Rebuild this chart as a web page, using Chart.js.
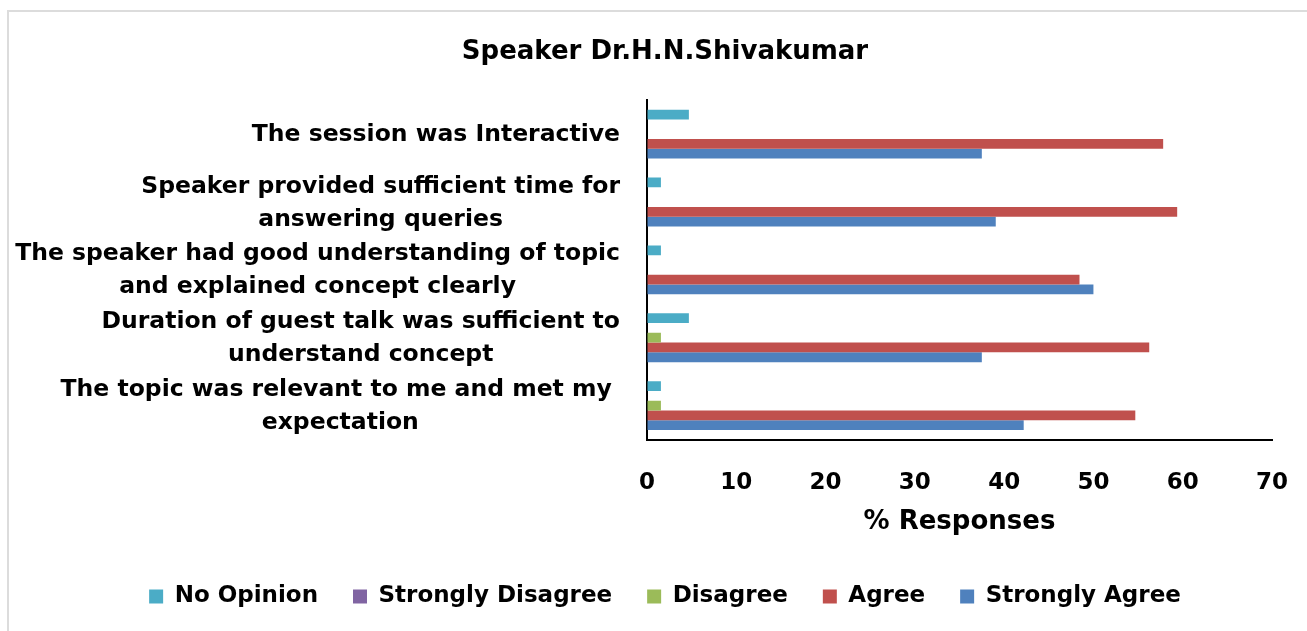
<!DOCTYPE html>
<html>
<head>
<meta charset="utf-8">
<title>Speaker Dr.H.N.Shivakumar</title>
<script src="https://cdn.jsdelivr.net/npm/chart.js@4.4.1/dist/chart.umd.min.js"></script>
<style>
  html, body { margin: 0; padding: 0; background: #ffffff; overflow: hidden; }
  #wrap { position: relative; width: 1307px; height: 631px; }
  #frame { position: absolute; left: 7px; top: 10px; width: 1330px; height: 660px;
           border: 2px solid #dcdcdc; box-sizing: border-box; }
  canvas { position: absolute; left: 0; top: 0; }
</style>
</head>
<body>
<div id="wrap">
  <div id="frame"></div>
  <canvas id="chart" width="1307" height="631"></canvas>
</div>
<script>
// Survey statements (top to bottom), each split into its printed lines
const categories = [
  ["The session was Interactive"],
  ["Speaker provided sufficient time for", "answering queries"],
  ["The speaker had good understanding of topic", "and explained concept clearly"],
  ["Duration of guest talk was sufficient to", "understand concept"],
  ["The topic was relevant to me and met my ", "expectation"]
];

// % of responses per rating
const noOpinion         = [4.69, 1.56, 1.56, 4.69, 1.56];
const stronglyDisagree  = [0, 0, 0, 0, 0];
const disagree          = [0, 0, 0, 1.56, 1.56];
const agree             = [57.81, 59.38, 48.44, 56.25, 54.69];
const stronglyAgree     = [37.5, 39.06, 50, 37.5, 42.19];

const xTicks = [0, 10, 20, 30, 40, 50, 60, 70];

const FONT = "'DejaVu Sans', 'Liberation Sans', Arial, sans-serif";
Chart.defaults.font.family = FONT;
Chart.defaults.font.weight = 'bold';
Chart.defaults.color = '#000000';

// Multi-line category labels: lines centred on each other, block right-aligned to the axis
const categoryLabels = {
  id: 'categoryLabels',
  afterDraw(chart) {
    const scale = chart.scales.y;
    const ctx = chart.ctx;
    const lh = 33;
    ctx.save();
    ctx.font = "bold 23.5px " + FONT;
    ctx.fillStyle = '#000000';
    ctx.textAlign = 'center';
    ctx.textBaseline = 'middle';
    const right = scale.right - 27;
    categories.forEach((lines, i) => {
      const yc = scale.getPixelForTick(i) + 1;
      const w = Math.max(...lines.map(l => ctx.measureText(l).width));
      const xc = right - w / 2;
      const y0 = yc - (lines.length - 1) * lh / 2;
      lines.forEach((l, k) => ctx.fillText(l, xc, y0 + k * lh));
    });
    ctx.restore();
  }
};

const mk = (label, data, color) => ({
  label, data,
  backgroundColor: color,
  borderWidth: 0,
  categoryPercentage: 0.72,
  barPercentage: 1.0
});

new Chart(document.getElementById('chart'), {
  type: 'bar',
  data: {
    labels: categories.map(c => c.join(' ')),
    datasets: [
      mk('No Opinion', noOpinion, '#4bacc6'),
      mk('Strongly Disagree', stronglyDisagree, '#8064a2'),
      mk('Disagree', disagree, '#9bbb59'),
      mk('Agree', agree, '#c0504d'),
      mk('Strongly Agree', stronglyAgree, '#4f81bd')
    ]
  },
  options: {
    indexAxis: 'y',
    responsive: false,
    animation: false,
    devicePixelRatio: 1,
    layout: { padding: { left: 58, right: 35, top: 20, bottom: 13 } },
    scales: {
      x: {
        min: 0, max: 70,
        afterBuildTicks(scale) { scale.ticks = xTicks.map(v => ({ value: v })); },
        afterFit(scale) {
          scale.height = 110.5;
          scale.paddingLeft = 0;
          scale.paddingRight = 0;
        },
        grid: { display: true, drawOnChartArea: false, drawTicks: false, color: 'rgba(0,0,0,0)' },
        border: { display: true, color: '#000000', width: 2 },
        ticks: { padding: 30, font: { size: 23, weight: 'bold' }, color: '#000000' },
        title: { display: true, text: '% Responses', font: { size: 26, weight: 'bold' },
                 color: '#000000', padding: { top: 10, bottom: 12 } }
      },
      y: {
        grid: { display: true, drawOnChartArea: false, drawTicks: false, color: 'rgba(0,0,0,0)' },
        border: { display: true, color: '#000000', width: 2 },
        ticks: { display: false },
        afterFit(scale) { scale.width = 589; }
      }
    },
    plugins: {
      title: {
        display: true,
        text: 'Speaker Dr.H.N.Shivakumar',
        font: { size: 26, weight: 'bold' },
        color: '#000000',
        padding: { top: 17, bottom: 32 }
      },
      legend: {
        position: 'bottom',
        labels: {
          boxWidth: 14, boxHeight: 14, padding: 35,
          font: { size: 23, weight: 'bold' }, color: '#000000'
        }
      },
      tooltip: { enabled: false }
    }
  },
  plugins: [categoryLabels]
});
</script>
</body>
</html>
